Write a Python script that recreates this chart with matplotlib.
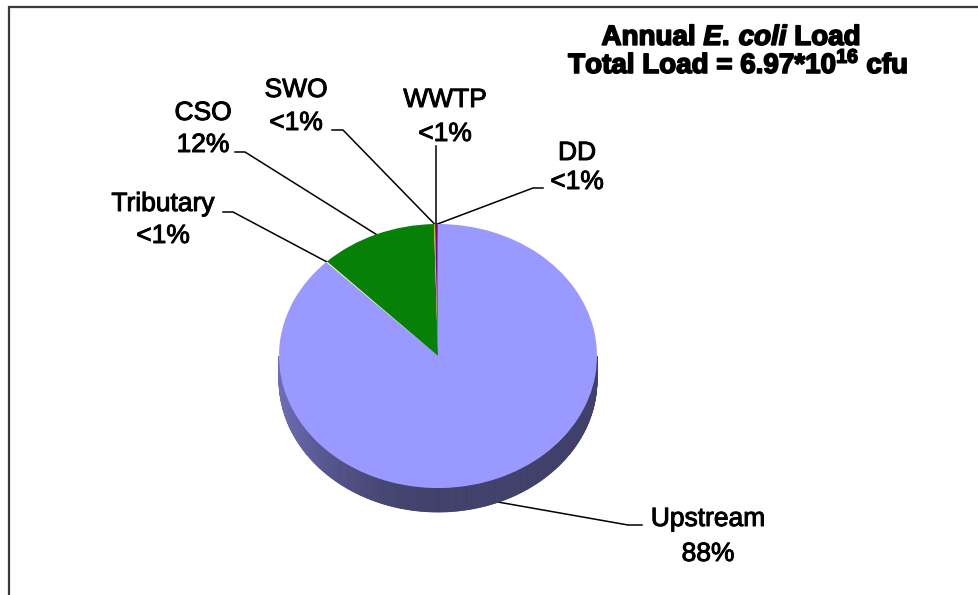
#############################################################################
##### Import python modules
import numpy as np
import matplotlib
matplotlib.use('agg')
import matplotlib.pyplot as plt
import matplotlib.patheffects as pe
from matplotlib.patches import Polygon
##### Settings
plt.rcParams['font.family'] = ['Liberation Sans', 'DejaVu Sans']
plt.rcParams['mathtext.fontset'] = 'custom'
plt.rcParams['mathtext.rm'] = 'Liberation Sans:bold'
plt.rcParams['mathtext.bf'] = 'Liberation Sans:bold'
plt.rcParams['mathtext.it'] = 'Liberation Sans:italic:bold'
#############################################################################
##### Data (percent of annual load)
sources = ['Upstream', 'Tributary', 'CSO', 'SWO', 'WWTP', 'DD']
loads = [87.6, 0.1, 11.9, 0.1, 0.2, 0.1]
pct_text = ['88%', '<1%', '12%', '<1%', '<1%', '<1%']
colors = ['#9999FF', '#FFFF99', '#078007', '#B5C400', '#800080', '#993366']
title1 = r'Annual $\mathit{E.\,coli}$ Load'
title2 = r'Total Load = 6.97*$10^{16}$ cfu'
#############################################################################
##### Layout (pixels)
W, H = 979, 595
cx, cy, rx, ry, depth = 438., 356., 159., 132., 24.
# label centre x, baseline of name, baseline of percent
label_pos = {'Upstream': (708, 526, 561),
             'Tributary': (163, 211, 243),
             'CSO': (203, 120, 152),
             'SWO': (296, 97, 130),
             'WWTP': (445, 107, 141),
             'DD': (577, 160, 189)}
# leader: start at label, elbow
leader_pts = {'Upstream': [(642, 525), (628, 525)],
              'Tributary': [(223, 212), (233, 212)],
              'CSO': [(235, 152), (245, 152)],
              'SWO': [(332, 130), (343, 130)],
              'WWTP': [(436, 146)],
              'DD': [(543, 188), (533, 188)]}
#############################################################################
##### Plotting
fig = plt.figure(figsize=(W/100., H/100.), dpi=100)
ax = fig.add_axes([0, 0, 1, 1])
ax.set_xlim(0, W)
ax.set_ylim(H, 0)
ax.axis('off')

axp = fig.add_axes([(cx-rx)/W, 1-(cy+ry)/H, 2*rx/W, 2*ry/H])
wedges, _ = axp.pie(loads, startangle=90, counterclock=False, colors=colors,
                    radius=1, wedgeprops=dict(linewidth=0))
axp.set_aspect('auto')
axp.set_xlim(-1, 1)
axp.set_ylim(-1, 1)
axp.axis('off')
for w in wedges:
    w.set_clip_on(False)
    w.set_zorder(2)

# side of the 3d pie, shaded darker towards the right
d = depth/ry
tt = np.arange(180, 360.01, 0.5)
for t0, t1 in zip(tt[:-1], tt[1:]):
    tm = 0.5*(t0+t1)
    wc = wedges[0]
    for w in wedges:
        if (tm - w.theta1) % 360 <= (w.theta2 - w.theta1):
            wc = w
    f = 0.42 + 0.30*max(0., -np.cos(np.deg2rad(tm)))**2
    c = np.array(wc.get_facecolor()[:3])*f
    a0, a1 = np.deg2rad(t0), np.deg2rad(t1)
    pts = [(np.cos(a0), np.sin(a0)), (np.cos(a1), np.sin(a1)),
           (np.cos(a1), np.sin(a1)-d), (np.cos(a0), np.sin(a0)-d)]
    axp.add_patch(Polygon(pts, closed=True, facecolor=c, edgecolor=c,
                          linewidth=0.6, zorder=1, clip_on=False))

# labels and leader lines
heavy = [pe.withStroke(linewidth=0.7, foreground='k')]
for w, name, pct in zip(wedges, sources, pct_text):
    mid = np.deg2rad(0.5*(w.theta1 + w.theta2))
    px = cx + rx*np.cos(mid)
    py = cy - ry*np.sin(mid)
    if np.sin(mid) < 0:
        py += depth
    pts = leader_pts[name] + [(px, py)]
    ax.plot([p[0] for p in pts], [p[1] for p in pts], color='k', lw=1.1)
    lx, ly1, ly2 = label_pos[name]
    ax.text(lx, ly1, name, ha='center', va='baseline', fontsize=19, path_effects=heavy)
    ax.text(lx, ly2, pct, ha='center', va='baseline', fontsize=19, path_effects=heavy)

heavier = [pe.withStroke(linewidth=1.2, foreground='k')]
ax.text(731, 45, title1, ha='center', va='baseline', fontsize=20,
        fontweight='bold', path_effects=heavier)
ax.text(738, 73, title2, ha='center', va='baseline', fontsize=20,
        fontweight='bold', path_effects=heavier)

# chart frame (runs off the right and bottom)
ax.plot([9.5, 9.5, 990], [600, 6.5, 6.5], color='#3a3a3a', lw=1.6,
        clip_on=False, solid_joinstyle='miter')

plt.savefig('out.png', dpi=100)
